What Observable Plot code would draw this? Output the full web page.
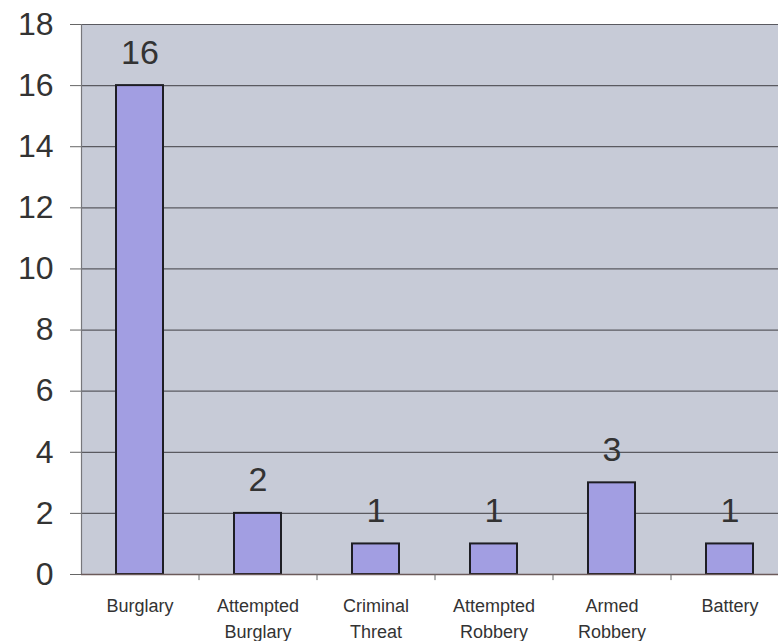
<!DOCTYPE html>
<html>
<head>
<meta charset="utf-8">
<script src="https://cdn.jsdelivr.net/npm/d3@7"></script>
<script src="https://cdn.jsdelivr.net/npm/@observablehq/plot@0.6"></script>
<style>
  html, body { margin: 0; padding: 0; background: #fff; }
  svg { display: block; }
</style>
</head>
<body>
<div id="chart"></div>
<script>
const categories = ["Burglary", "Attempted\nBurglary", "Criminal\nThreat", "Attempted\nRobbery", "Armed\nRobbery", "Battery"];
const counts = [16, 2, 1, 1, 3, 1];
const yTicks = [0, 2, 4, 6, 8, 10, 12, 14, 16, 18];

const data = categories.map((c, i) => ({ category: c, count: counts[i] }));
const font = "'Liberation Sans', Arial, sans-serif";

const W = 778, H = 641, ML = 81, MT = 24, MB = 67;
const bandW = 118;

const chart = Plot.plot({
  width: W,
  height: H,
  marginLeft: ML,
  marginRight: 0,
  marginTop: MT,
  marginBottom: MB,
  style: { fontFamily: font, background: "#fff", overflow: "visible" },
  x: { domain: categories, range: [ML, ML + bandW * categories.length], paddingInner: 0.6, paddingOuter: 0.3, axis: null },
  y: { domain: [0, 18], axis: null },
  marks: [
    Plot.frame({ fill: "#c7cbd7", stroke: null }),
    Plot.ruleY(yTicks.filter(d => d > 0), { stroke: "#5a5a60", strokeWidth: 1.2 }),
    Plot.frame({ anchor: "left", stroke: "#77777c", strokeWidth: 1.2 }),
    Plot.axisY({ ticks: yTicks, tickSize: 11, tickPadding: 17, fontSize: 32, tickFormat: d => d, label: null, color: "#333", stroke: "#666" }),
    Plot.barY(data, { x: "category", y: "count", fill: "#a29ee2", stroke: "#1e1e24", strokeWidth: 2 }),
    Plot.ruleY([0], { stroke: "#6b5a5a", strokeWidth: 1.5 }),
    Plot.ruleX(categories, { x: d => d, y1: 0, y2: -0.2, dx: bandW / 2, stroke: "#666" }),
    Plot.text(data, { x: "category", y: "count", text: d => String(d.count), dy: -22, lineAnchor: "bottom", fontSize: 34, fill: "#333" }),
    Plot.text(data, { x: "category", y: 0, text: "category", dy: 19, lineAnchor: "top", fontSize: 18, lineHeight: 1.45, fill: "#333" })
  ]
});

document.getElementById("chart").appendChild(chart);
</script>
</body>
</html>
